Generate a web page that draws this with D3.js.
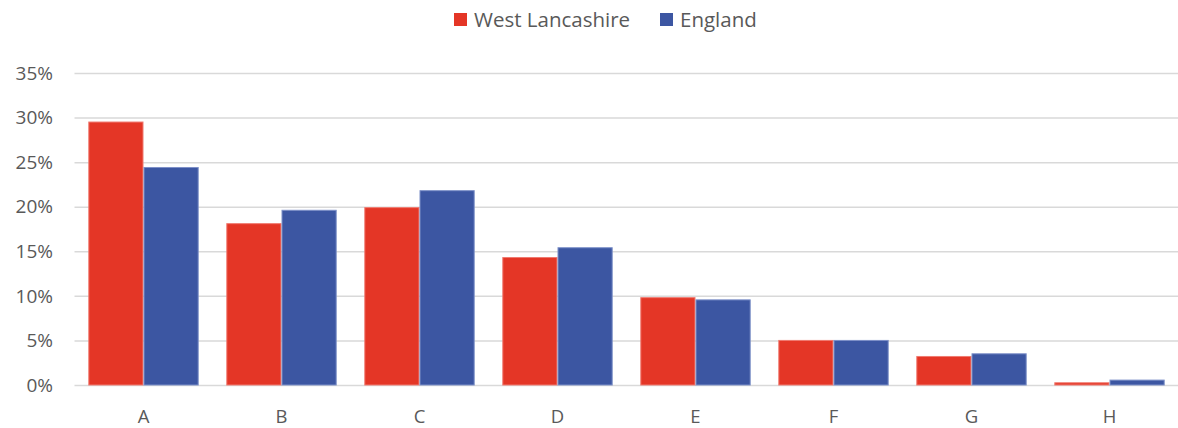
<!DOCTYPE html>
<html><head><meta charset="utf-8">
<script src="https://cdn.jsdelivr.net/npm/d3@7"></script>
<style>body{margin:0;background:#fff}svg{display:block}</style>
</head><body><svg id="c" width="1178" height="428"></svg>
<script>
const categories = ["A","B","C","D","E","F","G","H"];
const seriesNames = ["West Lancashire","England"];
const westLancashire = [29.5, 18.1, 19.9, 14.3, 9.8, 5.0, 3.2, 0.25];
const england = [24.4, 19.6, 21.8, 15.4, 9.55, 5.0, 3.5, 0.55];
const yTicks = [0,5,10,15,20,25,30,35];
const colors = ["#e43626","#3c56a2"];
const strokes = ["#f07a70","#7d90c8"];

const svg = d3.select("#c");
const W = 1178, H = 428;
const m = {l:74.5, r:-0.5, t:73, b:43};
const font = "'Open Sans', 'Noto Sans', sans-serif";
const x = d3.scaleBand().domain(categories).range([m.l, W-m.r]).paddingInner(0.2).paddingOuter(0.1);
const x1 = d3.scaleBand().domain(seriesNames).range([0, x.bandwidth()]);
const y = d3.scaleLinear().domain([0,35]).range([H-m.b, m.t]);

// gridlines
svg.append("g").selectAll("line").data(yTicks).join("line")
  .attr("x1", m.l).attr("x2", W)
  .attr("y1", d=>y(d)+0.5).attr("y2", d=>y(d)+0.5)
  .attr("stroke","#d9d9d9").attr("stroke-width",1.5);

// y labels
svg.append("g").selectAll("text").data(yTicks).join("text")
  .attr("x", 53).attr("y", d=>y(d)).attr("dy","0.35em")
  .attr("text-anchor","end").attr("fill","#595959")
  .style("font-family",font).style("font-size","19px")
  .text(d=>d+"%");

const data = [westLancashire, england];
seriesNames.forEach((s,si)=>{
  svg.append("g").selectAll("rect").data(categories).join("rect")
    .attr("x", c=>x(c)+x1(s)+0.5)
    .attr("width", x1.bandwidth()-1)
    .attr("y", (c,i)=>y(data[si][i]))
    .attr("height", (c,i)=>y(0)-y(data[si][i]))
    .attr("fill", colors[si]).attr("stroke", strokes[si]).attr("stroke-width",1);
});

// x labels
svg.append("g").selectAll("text").data(categories).join("text")
  .attr("x", c=>x(c)+x.bandwidth()/2).attr("y", 422.5)
  .attr("text-anchor","middle").attr("fill","#595959")
  .style("font-family",font).style("font-size","18.5px")
  .text(d=>d);

// legend
const leg = svg.append("g");
const items = [{n:seriesNames[0],x:454},{n:seriesNames[1],x:660}];
items.forEach((it,i)=>{
  leg.append("rect").attr("x",it.x).attr("y",13).attr("width",13).attr("height",13).attr("fill",colors[i]);
  leg.append("text").attr("x",it.x+20).attr("y",20).attr("dy","0.35em")
    .attr("fill","#595959").style("font-family",font).style("font-size","20.5px").text(it.n);
});
</script></body></html>
